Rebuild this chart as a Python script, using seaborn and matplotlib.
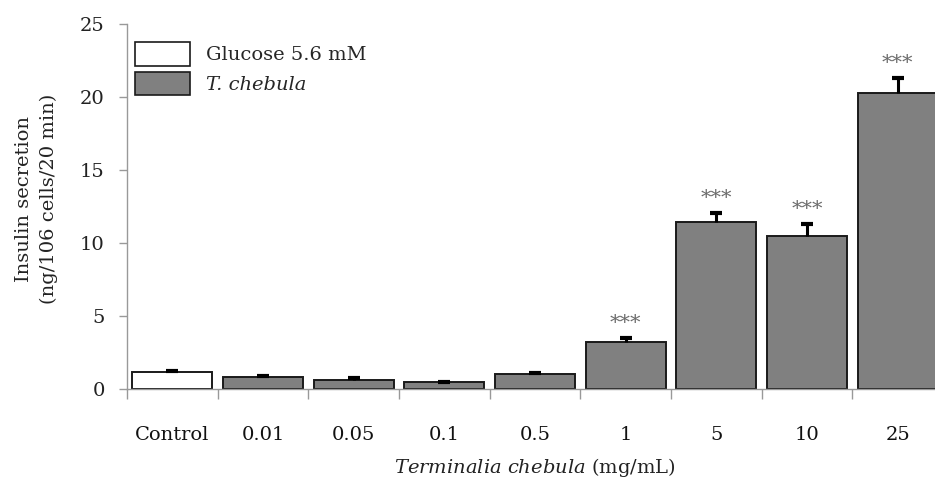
import numpy as np
import pandas as pd
import matplotlib
matplotlib.use("Agg")
import matplotlib.pyplot as plt
import seaborn as sns
from matplotlib.patches import Patch

categories = ["Control", "0.01", "0.05", "0.1", "0.5", "1", "5", "10", "25"]
groups = ["Glucose 5.6 mM", "T. chebula", "T. chebula", "T. chebula", "T. chebula",
          "T. chebula", "T. chebula", "T. chebula", "T. chebula"]
means = [1.14, 0.82, 0.64, 0.46, 1.03, 3.2, 11.42, 10.46, 20.3]
errors = [0.11, 0.08, 0.08, 0.02, 0.08, 0.27, 0.63, 0.84, 1.0]
stars = ["", "", "", "", "", "***", "***", "***", "***"]

FONT = "DejaVu Serif"
sns.set_theme(style="white")
plt.rcParams["font.family"] = [FONT, "Liberation Serif"]
plt.rcParams["mathtext.fontset"] = "custom"
plt.rcParams["mathtext.rm"] = FONT
plt.rcParams["mathtext.it"] = FONT + ":italic"

df = pd.DataFrame({"cat": categories, "val": means, "grp": groups})

fig = plt.figure(figsize=(9.35, 4.82), dpi=100)
ax = fig.add_axes([127 / 935, 93 / 482, 816 / 935, 365 / 482])

palette = {"Glucose 5.6 mM": "white", "T. chebula": "#808080"}
sns.barplot(data=df, x="cat", y="val", hue="grp", palette=palette, dodge=False,
            order=categories, width=0.88, edgecolor="#1a1a1a", linewidth=1.4,
            errorbar=None, ax=ax, legend=False)

x = np.arange(len(categories))
tops = np.array(means) + np.array(errors)
ax.errorbar(x, means, yerr=[np.zeros(len(means)), errors], fmt="none",
            ecolor="black", elinewidth=2.2, capsize=0, zorder=5)
ax.plot(x, tops, linestyle="none", marker="_", markersize=9, markeredgewidth=3,
        color="black", zorder=6)

for xi, t, s in zip(x, tops, stars):
    if s:
        ax.text(xi, t + 1.0, s, ha="center", va="center", fontsize=15,
                color="#6a6a6a")

ax.set_ylim(0, 25)
ax.set_xlim(-0.5, len(categories) - 0.5)
ax.set_yticks([0, 5, 10, 15, 20, 25])
ax.set_xticks(x)
ax.set_xticklabels(categories)
ax.set_xticks(np.arange(len(categories)) - 0.5, minor=True)
ax.tick_params(axis="x", which="major", length=0, pad=27, labelsize=14, colors="#111111")
ax.tick_params(axis="x", which="minor", length=7, width=1, color="#999999", direction="out",
               bottom=True)
ax.tick_params(axis="y", which="major", length=6, width=1, color="#999999", direction="out",
               left=True, pad=10, labelsize=14, labelcolor="#222222")

for side in ["top", "right"]:
    ax.spines[side].set_visible(False)
for side in ["left", "bottom"]:
    ax.spines[side].set_color("#999999")
    ax.spines[side].set_linewidth(1)

ax.set_ylabel("Insulin secretion\n(ng/106 cells/20 min)", fontsize=14, color="#222222",
              linespacing=1.45)
ax.yaxis.set_label_coords(-0.085, 0.52)
ax.set_xlabel(r"$\mathit{Terminalia\ chebula}$ (mg/mL)", fontsize=14, color="#222222",
              labelpad=8)

handles = [Patch(facecolor="white", edgecolor="#1a1a1a", linewidth=1.2),
           Patch(facecolor="#808080", edgecolor="#1a1a1a", linewidth=1.2)]
leg = ax.legend(handles, ["Glucose 5.6 mM", "T. chebula"], loc="upper left",
                bbox_to_anchor=(0.0, 0.972), frameon=False, fontsize=14,
                handlelength=2.85, handleheight=1.5, handletextpad=0.8,
                labelspacing=0.3, borderaxespad=0.0)
leg.get_texts()[1].set_fontstyle("italic")

fig.savefig("out.png", dpi=100)
